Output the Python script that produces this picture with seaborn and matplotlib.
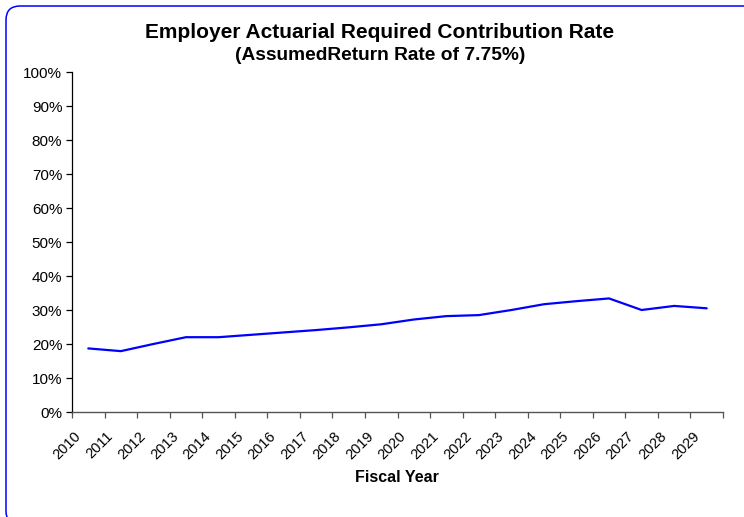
import matplotlib
matplotlib.use("Agg")
import matplotlib.pyplot as plt
import matplotlib.transforms as mtransforms
from matplotlib.patches import FancyBboxPatch
from matplotlib.ticker import FuncFormatter
import seaborn as sns
import pandas as pd
import numpy as np

years = [str(y) for y in range(2010, 2030)]
rates = [0.187, 0.179, 0.200, 0.220, 0.220, 0.227, 0.234, 0.241, 0.249, 0.258,
         0.272, 0.282, 0.285, 0.300, 0.317, 0.326, 0.334, 0.300, 0.312, 0.305]
y_ticks = [i / 10 for i in range(11)]

title = "Employer Actuarial Required Contribution Rate"
subtitle = "(AssumedReturn Rate of 7.75%)"
xlabel = "Fiscal Year"

sns.set_theme(style="white")
plt.rcParams['font.family'] = ['Liberation Sans', 'DejaVu Sans']
plt.rcParams['text.color'] = 'black'
plt.rcParams['axes.labelcolor'] = 'black'
plt.rcParams['xtick.color'] = 'black'
plt.rcParams['ytick.color'] = 'black'

fig = plt.figure(figsize=(7.44, 5.17), dpi=100)
ax = fig.add_axes([72 / 744, 1 - 412 / 517, (723 - 72) / 744, (412 - 72) / 517])

df = pd.DataFrame({"year": years, "rate": rates})
sns.lineplot(data=df, x="year", y="rate", ax=ax, color="#0000FF", linewidth=1.6, sort=False)

n = len(years)
ax.set_xlim(-0.5, n - 0.5)
ax.set_ylim(0, 1)
ax.set_yticks(y_ticks)
ax.yaxis.set_major_formatter(FuncFormatter(lambda v, p: f"{int(round(v * 100))}%"))

# boundaries carry the tick marks; labels sit just left of each category centre
ax.set_xticks(np.arange(-0.5, n, 1.0))
ax.set_xticklabels([""] * (n + 1))
ax.set_xticks(np.arange(n) - 0.45, minor=True)
ax.set_xticklabels(years, minor=True, rotation=45, ha="right", va="top",
                   rotation_mode="anchor", fontsize=10.5)
ax.tick_params(axis="x", which="major", direction="out", length=4, width=0.9,
               color="#555555", bottom=True)
ax.tick_params(axis="x", which="minor", length=0, pad=12, bottom=True)
ax.tick_params(axis="y", direction="out", length=4, width=0.9, color="black",
               labelsize=11, pad=3, left=True)

for s in ["top", "right"]:
    ax.spines[s].set_visible(False)
ax.spines["left"].set_color("black")
ax.spines["left"].set_linewidth(0.9)
ax.spines["bottom"].set_color("#555555")
ax.spines["bottom"].set_linewidth(1.0)

ax.set_ylabel("")
ax.set_xlabel("")
ax.grid(False)

fig.text(380 / 744, 1 - 32 / 517, title, ha="center", va="center",
         fontsize=15, fontweight="bold", color="black")
fig.text(380 / 744, 1 - 55 / 517, subtitle, ha="center", va="center",
         fontsize=13.8, fontweight="bold", color="black")
fig.text(397 / 744, 1 - 477 / 517, xlabel, ha="center", va="center",
         fontsize=11.5, fontweight="bold", color="black")

frame = FancyBboxPatch((6, -8), 760, 517 - 6 + 8,
                       boxstyle="round,pad=0,rounding_size=14",
                       transform=mtransforms.IdentityTransform(),
                       facecolor="none", edgecolor="#0000FF", linewidth=1.1)
fig.patches.append(frame)

fig.savefig("out.png", dpi=100)
